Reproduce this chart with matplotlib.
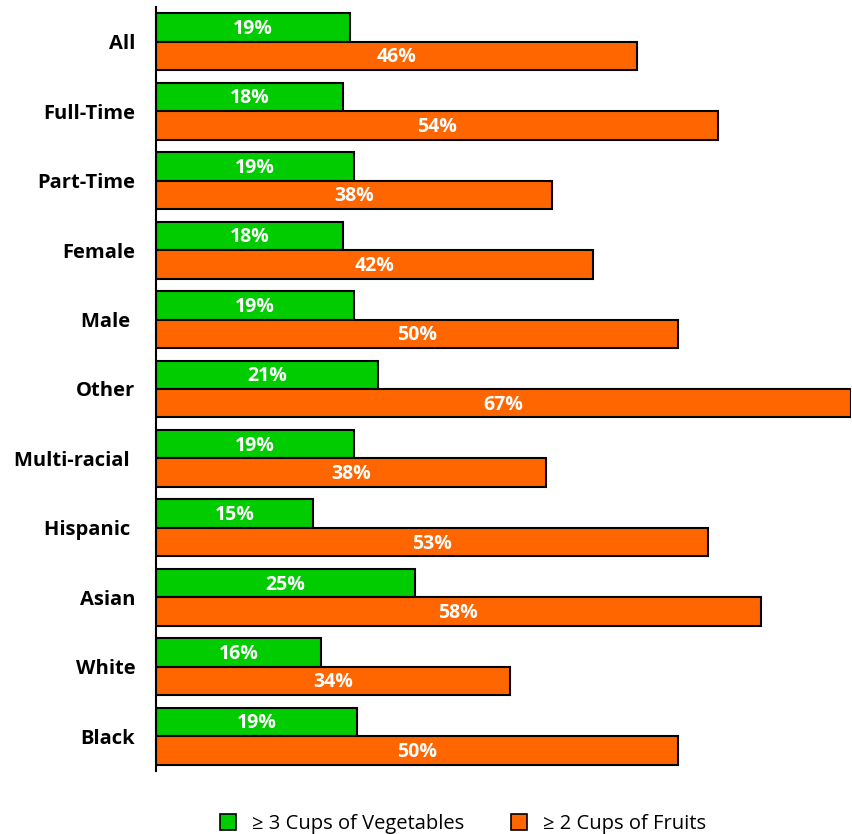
import matplotlib

matplotlib.use("Agg")
import matplotlib.pyplot as plt
import numpy as np
from matplotlib.patches import Patch

plt.rcParams["font.family"] = ["Open Sans", "DejaVu Sans"]

categories = ["All", "Full-Time", "Part-Time", "Female", "Male ", "Other",
              "Multi-racial ", "Hispanic ", "Asian", "White", "Black"]
vegetables = [18.7, 18.0, 19.1, 18.0, 19.1, 21.4, 19.1, 15.1, 25.0, 15.9, 19.4]
fruits = [46.4, 54.2, 38.2, 42.1, 50.3, 67.0, 37.6, 53.2, 58.3, 34.1, 50.3]
series_names = ["\u2265 3 Cups of Vegetables", "\u2265 2 Cups of Fruits"]

GREEN = "#00CC00"
ORANGE = "#FF6600"

fig = plt.figure(figsize=(8.52, 8.34), dpi=100)
ax = fig.add_axes([156 / 852, 1 - 771 / 834, 695 / 852, 764 / 834])

y = np.arange(len(categories))
h = 0.41
ax.barh(y - h / 2, vegetables, height=h, color=GREEN, edgecolor="black", linewidth=1.5)
ax.barh(y + h / 2, fruits, height=h, color=ORANGE, edgecolor="black", linewidth=1.5)

# labels sit in the middle of each bar
for yi, v in zip(y, vegetables):
    ax.text(v / 2, yi - h / 2 + 0.02, f"{v:.0f}%", ha="center", va="center",
            color="white", fontsize=14, fontweight="bold")
for yi, v in zip(y, fruits):
    ax.text(v / 2, yi + h / 2 + 0.02, f"{v:.0f}%", ha="center", va="center",
            color="white", fontsize=14, fontweight="bold")

ax.set_xlim(0, 67.0)
ax.set_ylim(len(categories) - 0.5, -0.5)
ax.set_yticks(y)
ax.set_yticklabels(categories, fontsize=14.5, fontweight="bold")
ax.tick_params(axis="y", length=0, pad=15)
ax.set_xticks([])
for side in ["top", "right", "bottom"]:
    ax.spines[side].set_visible(False)
ax.spines["left"].set_linewidth(1.5)

handles = [Patch(facecolor=GREEN, edgecolor="black", linewidth=1.2),
           Patch(facecolor=ORANGE, edgecolor="black", linewidth=1.2)]
fig.legend(handles, series_names, loc="center", bbox_to_anchor=(463 / 852, 1 - 824 / 834),
           ncol=2, frameon=False, handlelength=0.8, handleheight=0.8,
           columnspacing=2.3, handletextpad=0.8,
           prop={"family": ["Open Sans", "DejaVu Sans"], "size": 14.5})

fig.savefig("out.png", dpi=100)
